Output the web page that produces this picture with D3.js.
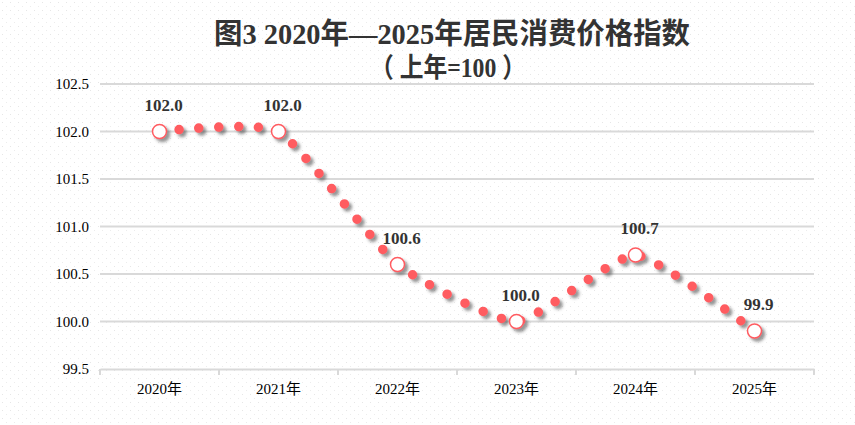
<!DOCTYPE html>
<html>
<head>
<meta charset="utf-8">
<script src="https://cdn.jsdelivr.net/npm/d3@7"></script>
<style>
  body { margin: 0; background: #fff; }
  svg { display: block; }
</style>
</head>
<body>
<div id="chart"></div>
<script>
// data
const years = ["2020年", "2021年", "2022年", "2023年", "2024年", "2025年"];
const cpi = [102.0, 102.0, 100.6, 100.0, 100.7, 99.9];
const yTicks = [99.5, 100.0, 100.5, 101.0, 101.5, 102.0, 102.5];
const titleLine1 = "图3 2020年—2025年居民消费价格指数";
const titleLine2 = "（ 上年=100 ）";

const width = 855, height = 425;
const margin = { top: 84, right: 41, bottom: 56, left: 100 };

const svg = d3.select("#chart").append("svg")
  .attr("width", width)
  .attr("height", height);

const defs = svg.append("defs");

// faint dotted paper background
const pat = defs.append("pattern")
  .attr("id", "bgdots")
  .attr("width", 8).attr("height", 8)
  .attr("patternUnits", "userSpaceOnUse");
pat.append("rect").attr("x", 2).attr("y", 2).attr("width", 1).attr("height", 1).attr("fill", "#e6e6e6");
pat.append("rect").attr("x", 6).attr("y", 6).attr("width", 1).attr("height", 1).attr("fill", "#ececec");

svg.append("rect").attr("width", width).attr("height", height).attr("fill", "#fff");
svg.append("rect").attr("width", width).attr("height", height).attr("fill", "url(#bgdots)");

// drop shadow for the dots
const shadow = defs.append("filter")
  .attr("id", "shadow")
  .attr("x", "-50%").attr("y", "-50%")
  .attr("width", "200%").attr("height", "200%");
shadow.append("feDropShadow")
  .attr("dx", 3).attr("dy", 3)
  .attr("stdDeviation", 1.6)
  .attr("flood-color", "#404040")
  .attr("flood-opacity", 0.55);

// title
svg.append("text")
  .attr("x", 452).attr("y", 44)
  .attr("text-anchor", "middle")
  .attr("textLength", 476)
  .attr("lengthAdjust", "spacingAndGlyphs")
  .style("font-family", "'Liberation Serif', 'Noto Sans CJK SC', serif")
  .style("font-weight", "bold")
  .style("font-size", "29px")
  .attr("fill", "#333")
  .text(titleLine1);

svg.append("text")
  .attr("x", 448).attr("y", 77)
  .attr("text-anchor", "middle")
  .attr("textLength", 156)
  .attr("lengthAdjust", "spacingAndGlyphs")
  .style("font-family", "'Liberation Serif', 'Noto Sans CJK SC', serif")
  .style("font-weight", "bold")
  .style("font-size", "27px")
  .attr("fill", "#333")
  .text(titleLine2);

// scales
const x = d3.scaleBand()
  .domain(years)
  .range([margin.left, width - margin.right]);

const y = d3.scaleLinear()
  .domain([99.5, 102.5])
  .range([height - margin.bottom, margin.top]);

const cx = (d, i) => x(years[i]) + x.bandwidth() / 2;

// grid lines
svg.append("g")
  .selectAll("line")
  .data(yTicks.slice(1))
  .enter()
  .append("line")
  .attr("x1", margin.left)
  .attr("x2", width - margin.right)
  .attr("y1", d => y(d))
  .attr("y2", d => y(d))
  .attr("stroke", "#d9d9d9")
  .attr("stroke-width", 2);

// y axis labels
svg.append("g")
  .selectAll("text")
  .data(yTicks)
  .enter()
  .append("text")
  .attr("x", margin.left - 11)
  .attr("y", d => y(d))
  .attr("dy", "0.35em")
  .attr("text-anchor", "end")
  .style("font-family", "'Liberation Serif', serif")
  .style("font-size", "15px")
  .attr("fill", "#000")
  .text(d => d.toFixed(1));

// x axis: line at the bottom with ticks at the band edges
const xAxis = svg.append("g")
  .attr("transform", `translate(0, ${y(99.5)})`)
  .call(d3.axisBottom(x).tickSize(0).tickPadding(14));
xAxis.select(".domain").attr("stroke", "#d9d9d9").attr("stroke-width", 2);
xAxis.selectAll("text")
  .style("font-family", "'Liberation Serif', 'Noto Sans CJK SC', serif")
  .style("font-size", "15px")
  .attr("fill", "#000");

const edges = years.map(d => x(d)).concat([x(years[years.length - 1]) + x.bandwidth()]);
xAxis.selectAll(".edge")
  .data(edges)
  .enter()
  .append("line")
  .attr("class", "edge")
  .attr("x1", d => d).attr("x2", d => d)
  .attr("y1", 0).attr("y2", 6)
  .attr("stroke", "#d9d9d9")
  .attr("stroke-width", 2);

// smoothed dotted line
const line = d3.line()
  .x(cx)
  .y(d => y(d))
  .curve(d3.curveCardinal.tension(0.5));

const marks = svg.append("g").attr("filter", "url(#shadow)");

marks.append("path")
  .datum(cpi)
  .attr("d", line)
  .attr("fill", "none")
  .attr("stroke", "#ff5b61")
  .attr("stroke-width", 9.5)
  .attr("stroke-linecap", "round")
  .attr("stroke-dasharray", "0 19.8");

// hollow markers at the year points
marks.selectAll("circle")
  .data(cpi)
  .enter()
  .append("circle")
  .attr("cx", cx)
  .attr("cy", d => y(d))
  .attr("r", 7)
  .attr("fill", "#fff")
  .attr("stroke", "#ff5b61")
  .attr("stroke-width", 1.5);

// value labels
svg.append("g")
  .selectAll("text")
  .data(cpi)
  .enter()
  .append("text")
  .attr("x", (d, i) => cx(d, i) + 4)
  .attr("y", d => y(d) - 21)
  .attr("text-anchor", "middle")
  .style("font-family", "'Liberation Serif', serif")
  .style("font-weight", "bold")
  .style("font-size", "17px")
  .attr("fill", "#333")
  .text(d => d.toFixed(1));
</script>
</body>
</html>
